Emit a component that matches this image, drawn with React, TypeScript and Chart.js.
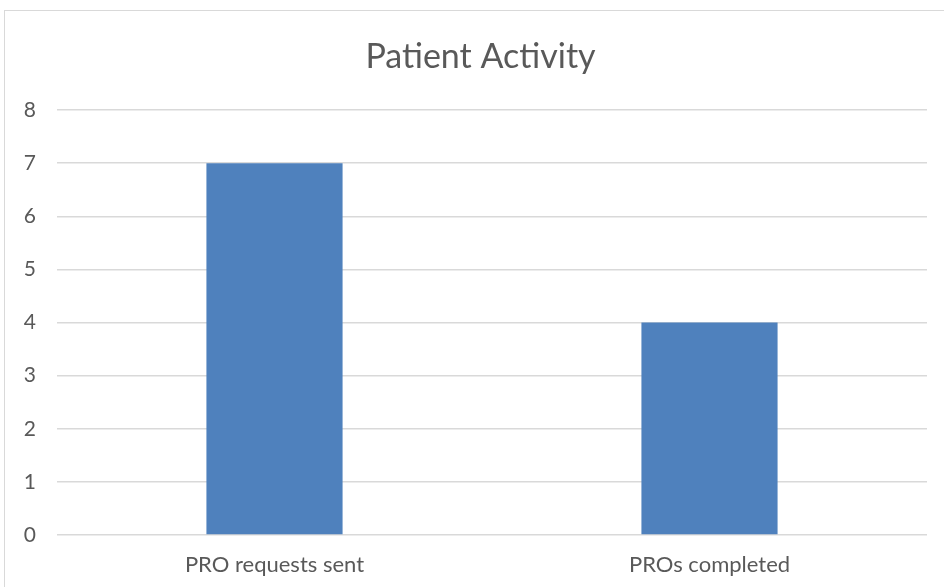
import React, { useEffect, useRef } from "react";
import { Chart, registerables } from "chart.js";

Chart.register(...registerables);

const categories = ["PRO requests sent", "PROs completed"];
const values = [7, 4];
const yTicks = [0, 1, 2, 3, 4, 5, 6, 7, 8];
const chartTitle = "Patient Activity";

const titlePlugin = {
  id: "offsetTitle",
  afterDraw(chart: any) {
    const ctx = chart.ctx;
    ctx.save();
    ctx.fillStyle = "#595959";
    ctx.font = "normal 34px Lato";
    ctx.textAlign = "center";
    ctx.textBaseline = "middle";
    ctx.fillText(chartTitle, (chart.width + 17) / 2, 57);
    ctx.restore();
  },
};

export default function App() {
  const ref = useRef<HTMLCanvasElement | null>(null);
  useEffect(() => {
    if (!ref.current) return;
    const chart = new Chart(ref.current, {
      type: "bar",
      data: {
        labels: categories,
        datasets: [
          {
            data: values,
            backgroundColor: "#4f81bd",
            barPercentage: 0.313,
            categoryPercentage: 1,
          },
        ],
      },
      plugins: [titlePlugin],
      options: {
        animation: false,
        responsive: false,
        layout: { padding: { left: 0, right: 17, top: 110, bottom: 0 } },
        plugins: {
          legend: { display: false },
          tooltip: { enabled: false },
          title: { display: false },
        },
        scales: {
          x: {
            grid: { display: false, drawTicks: false },
            border: { display: false },
            ticks: {
              color: "#595959",
              font: { family: "Lato", size: 22 },
              padding: 17,
            },
            afterFit: (s: any) => {
              s.height = 52;
            },
          },
          y: {
            min: 0,
            max: 8,
            afterBuildTicks: (s: any) => {
              s.ticks = yTicks.map((v) => ({ value: v }));
            },
            grid: { color: "#d9d9d9", lineWidth: 1.5, drawTicks: false },
            border: { display: false },
            ticks: {
              color: "#595959",
              font: { family: "Lato", size: 21 },
              padding: 21,
            },
            afterFit: (s: any) => {
              s.width = 57;
            },
          },
        },
      },
    });
    return () => chart.destroy();
  }, []);
  return (
    <div style={{ position: "fixed", left: 0, top: 0, width: 944, height: 587, overflow: "hidden", background: "#fff" }}>
      <canvas ref={ref} width={944} height={587} style={{ position: "absolute", left: 0, top: 0 }} />
      <div
        style={{
          position: "absolute",
          left: 4,
          top: 10,
          width: 960,
          height: 600,
          border: "1.5px solid #d9d9d9",
          boxSizing: "border-box",
        }}
      />
    </div>
  );
}
